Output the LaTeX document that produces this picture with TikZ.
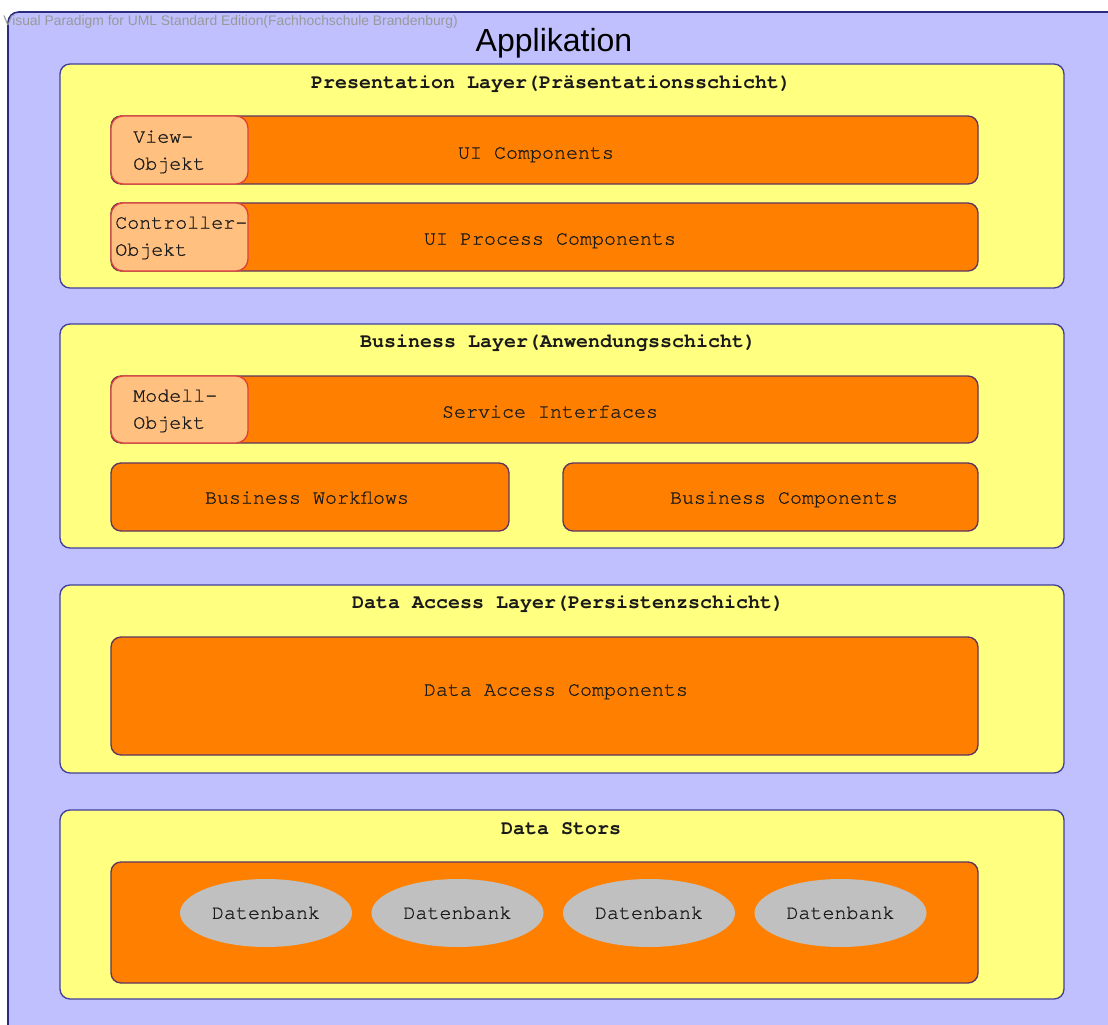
\documentclass[tikz,border=0pt]{standalone}
\usepackage{fontspec}
\setmainfont{Liberation Sans}
\newfontfamily\monofont{TeX Gyre Cursor}
\newfontfamily\monoreg[FakeBold=0.9]{TeX Gyre Cursor}
\usetikzlibrary{fit,shapes.geometric}
\definecolor{frameFill}{HTML}{C0C0FF}
\definecolor{frameLine}{HTML}{2B2B7F}
\definecolor{layerFill}{HTML}{FFFF80}
\definecolor{layerLine}{HTML}{40409A}
\definecolor{compFill}{HTML}{FF8000}
\definecolor{compLine}{HTML}{5E3462}
\definecolor{objFill}{HTML}{FFC080}
\definecolor{objLine}{HTML}{E0403A}
\definecolor{dbFill}{HTML}{C0C0C0}
\definecolor{markGray}{HTML}{999999}
\definecolor{inkText}{HTML}{1A1A1A}

\begin{document}
\begin{tikzpicture}[x=0.75pt,y=-0.75pt,
  frame/.style={fill=frameFill, draw=frameLine, line width=1.2pt, rounded corners=8pt, inner sep=0pt},
  layer/.style={fill=layerFill, draw=layerLine, line width=1pt, rounded corners=7.5pt, inner sep=0pt},
  comp/.style={fill=compFill, draw=compLine, line width=1pt, rounded corners=7.5pt, inner sep=0pt},
  obj/.style={fill=objFill, draw=objLine, line width=1pt, rounded corners=9pt, inner sep=0pt},
  db/.style={ellipse, fill=dbFill, draw=none, minimum width=129pt, minimum height=51pt,
    inner sep=0pt, font=\monoreg\fontsize{15}{18}\selectfont, text=inkText},
  ttl/.style={font=\monofont\bfseries\fontsize{15}{18}\selectfont, text=inkText,
    inner sep=0pt, text height=8.5pt, text depth=0pt},
  lbl/.style={font=\monoreg\fontsize{15}{18}\selectfont, text=inkText,
    inner sep=0pt, text height=8.5pt, text depth=0pt},
]
\useasboundingbox (0,0) rectangle (1108,1025);
\clip (0,0) rectangle (1108,1025);
\fill[white] (0,0) rectangle (1108,1025);

% application frame (runs past the right and bottom edges)
\node[frame, fit={(8,12) (1130,1045)}] (app) {};
\node[anchor=west, text=markGray, font=\fontsize{10.4}{12}\selectfont, inner sep=0pt]
  (mark) at (3,22) {Visual Paradigm for UML Standard Edition(Fachhochschule Brandenburg)};
\node[anchor=base, text=black, font=\fontsize{24}{28}\selectfont, inner sep=0pt]
  (appT) at (554,51) {Applikation};

% layers
\node[layer, fit={(60,64) (1064,288)}] (pres) {};
\node[layer, fit={(60,324) (1064,548)}] (bus) {};
\node[layer, fit={(60,585) (1064,773)}] (dal) {};
\node[layer, fit={(60,810) (1064,999)}] (ds) {};

\node[ttl] (presT) at (551,83) {Presentation Layer(Präsentationsschicht)};
\node[ttl] (busT) at (558,342) {Business Layer(Anwendungsschicht)};
\node[ttl] (dalT) at (568,603) {Data Access Layer(Persistenzschicht)};
\node[ttl] (dsT) at (561,829) {Data Stors};

% presentation layer
\node[comp, fit={(111,116) (978,184)}] (uic) {};
\node[obj, fit={(111,116) (248,184)}] (view) {};
\node[comp, fit={(111,203) (978,271)}] (uip) {};
\node[obj, fit={(111,203) (248,271)}] (ctrl) {};
\node[lbl] (uicT) at (536,153) {UI Components};
\node[lbl] (uipT) at (550,239) {UI Process Components};
\node[lbl, anchor=west] (viewA) at (133,137) {View-};
\node[lbl, anchor=west] (viewB) at (133,164) {Objekt};
\node[lbl, anchor=west] (ctrlA) at (115,223) {Controller-};
\node[lbl, anchor=west] (ctrlB) at (115,250) {Objekt};

% business layer
\node[comp, fit={(111,376) (978,443)}] (svc) {};
\node[obj, fit={(111,376) (248,443)}] (model) {};
\node[comp, fit={(111,463) (509,531)}] (wf) {};
\node[comp, fit={(563,463) (978,531)}] (bc) {};
\node[lbl] (svcT) at (550,412) {Service Interfaces};
\node[lbl, anchor=west] (modelA) at (133,396) {Modell-};
\node[lbl, anchor=west] (modelB) at (133,423) {Objekt};
\node[lbl] (wfT) at (307,498) {Business Workflows};
\node[lbl] (bcT) at (784,498) {Business Components};

% data access layer
\node[comp, fit={(111,637) (978,755)}] (dac) {};
\node[lbl] (dacT) at (556,690) {Data Access Components};

% data stores
\node[comp, fit={(111,862) (978,983)}] (store) {};
\node[db] (db1) at (266,913) {Datenbank};
\node[db] (db2) at (457.5,913) {Datenbank};
\node[db] (db3) at (649,913) {Datenbank};
\node[db] (db4) at (840.5,913) {Datenbank};
\end{tikzpicture}
\end{document}
